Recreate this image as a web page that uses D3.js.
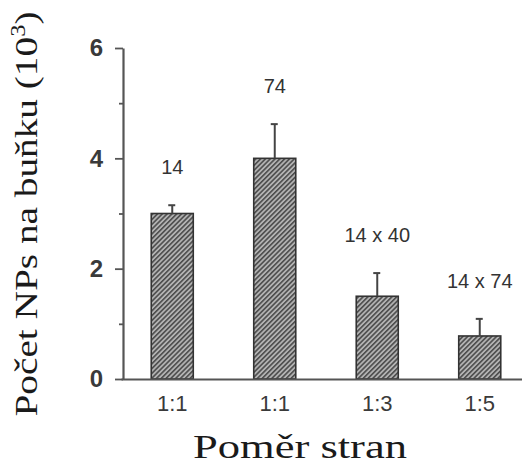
<!DOCTYPE html>
<html>
<head>
<meta charset="utf-8">
<script src="https://cdn.jsdelivr.net/npm/d3@7"></script>
<style>
  html, body { margin: 0; padding: 0; background: #fff; }
  svg { display: block; }
</style>
</head>
<body>
<div id="chart"></div>
<script>
// data
const categories = ['1:1', '1:1', '1:3', '1:5'];
const values = [3.0, 4.0, 1.5, 0.78];
const errors = [0.15, 0.62, 0.42, 0.31];
const barLabels = ['14', '74', '14 x 40', '14 x 74'];
const yTicks = [0, 2, 4, 6];
const yMinorTicks = [1, 3, 5];

const W = 522, H = 469;

const svg = d3.select('#chart')
    .append('svg')
    .attr('width', W)
    .attr('height', H);

// hatch pattern for bars
const defs = svg.append('defs');
const pat = defs.append('pattern')
    .attr('id', 'hatch')
    .attr('patternUnits', 'userSpaceOnUse')
    .attr('width', 3.4)
    .attr('height', 3.4)
    .attr('patternTransform', 'rotate(45)');
pat.append('rect')
    .attr('width', 3.4)
    .attr('height', 3.4)
    .attr('fill', '#b2b2b2');
pat.append('line')
    .attr('x1', 0.8).attr('y1', 0)
    .attr('x2', 0.8).attr('y2', 3.4)
    .attr('stroke', '#454545')
    .attr('stroke-width', 1.5);

// scales
const x = d3.scaleBand()
    .domain(d3.range(categories.length))
    .range([121, 531])
    .paddingInner(0.59)
    .paddingOuter(0.295);

const y = d3.scaleLinear()
    .domain([0, 6])
    .range([379, 48]);

const axisX0 = 123;
const axisColor = '#555';

// bars
const bars = svg.append('g');
bars.selectAll('rect')
    .data(values)
    .enter()
    .append('rect')
    .attr('x', (d, i) => x(i))
    .attr('y', d => y(d))
    .attr('width', x.bandwidth())
    .attr('height', d => y(0) - y(d))
    .attr('fill', 'url(#hatch)')
    .attr('stroke', '#333')
    .attr('stroke-width', 1.6);

// error bars
const err = svg.append('g')
    .attr('stroke', '#444')
    .attr('stroke-width', 2);
values.forEach((v, i) => {
    const cx = x(i) + x.bandwidth() / 2;
    err.append('line')
        .attr('x1', cx).attr('x2', cx)
        .attr('y1', y(v)).attr('y2', y(v + errors[i]));
    err.append('line')
        .attr('x1', cx - 4).attr('x2', cx + 3)
        .attr('y1', y(v + errors[i])).attr('y2', y(v + errors[i]));
});

// labels above bars
svg.append('g')
    .selectAll('text')
    .data(barLabels)
    .enter()
    .append('text')
    .attr('x', (d, i) => x(i) + x.bandwidth() / 2)
    .attr('y', (d, i) => y(values[i] + errors[i]) - 38)
    .attr('dy', '0.35em')
    .attr('text-anchor', 'middle')
    .attr('fill', '#333')
    .style('font-family', '"Liberation Sans", Arial, sans-serif')
    .style('font-size', '20px')
    .text(d => d);

// y axis
const yAxis = svg.append('g')
    .attr('transform', `translate(${axisX0},0)`)
    .call(d3.axisLeft(y)
        .tickValues(yTicks)
        .tickSize(8)
        .tickSizeOuter(0)
        .tickPadding(12)
        .tickFormat(d3.format('d')));

yAxis.select('.domain').attr('stroke', axisColor).attr('stroke-width', 2.2);
yAxis.selectAll('.tick line').attr('stroke', axisColor).attr('stroke-width', 1.8);
yAxis.selectAll('.tick text')
    .attr('fill', '#3a3a3a')
    .style('font-family', '"Liberation Sans", Arial, sans-serif')
    .style('font-size', '24px')
    .style('font-weight', 'bold');

const yMinor = svg.append('g')
    .attr('transform', `translate(${axisX0},0)`)
    .call(d3.axisLeft(y)
        .tickValues(yMinorTicks)
        .tickSize(4)
        .tickFormat(''));
yMinor.select('.domain').remove();
yMinor.selectAll('.tick line').attr('stroke', axisColor).attr('stroke-width', 1.8);

// x axis
const xAxis = svg.append('g')
    .attr('transform', `translate(0,${y(0)})`)
    .call(d3.axisBottom(x)
        .tickSize(0)
        .tickSizeOuter(0)
        .tickPadding(16)
        .tickFormat(i => categories[i]));

xAxis.select('.domain').attr('stroke', axisColor).attr('stroke-width', 2.2);
xAxis.selectAll('.tick text')
    .attr('fill', '#3a3a3a')
    .style('font-family', '"Liberation Sans", Arial, sans-serif')
    .style('font-size', '22px');

// axis titles
const yTitle = svg.append('text')
    .attr('transform', 'translate(37,214) rotate(-90)')
    .attr('text-anchor', 'middle')
    .attr('fill', '#1a1a1a')
    .style('font-family', '"Liberation Serif", "Times New Roman", serif')
    .style('font-size', '32px')
    .attr('textLength', 405)
    .attr('lengthAdjust', 'spacingAndGlyphs');
yTitle.append('tspan').text('Počet NPs na buňku (10');
yTitle.append('tspan')
    .attr('dy', -12)
    .style('font-size', '20px')
    .text('3');
yTitle.append('tspan')
    .attr('dy', 12)
    .text(')');

svg.append('text')
    .attr('x', 300)
    .attr('y', 458)
    .attr('text-anchor', 'middle')
    .attr('fill', '#1a1a1a')
    .style('font-family', '"Liberation Serif", "Times New Roman", serif')
    .style('font-size', '33px')
    .attr('textLength', 214)
    .attr('lengthAdjust', 'spacingAndGlyphs')
    .text('Poměr stran');
</script>
</body>
</html>
